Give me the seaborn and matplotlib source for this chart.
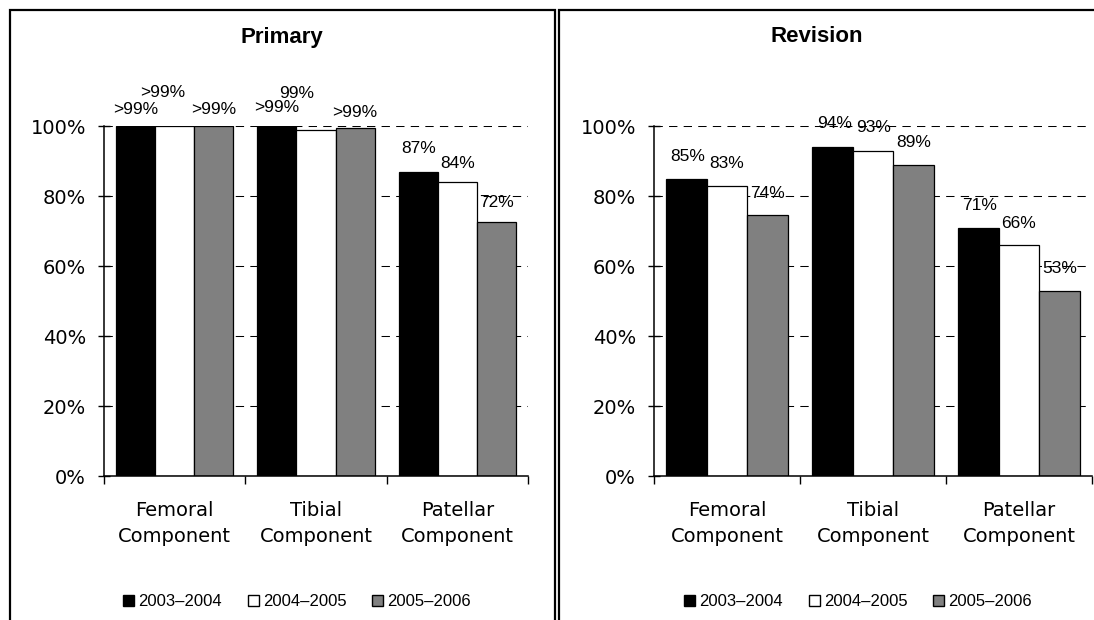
import matplotlib
matplotlib.use("Agg")
import matplotlib.pyplot as plt
from matplotlib.patches import Rectangle
from matplotlib.ticker import PercentFormatter, FixedLocator
import seaborn as sns
import pandas as pd

# ---- data ----
components = ["Femoral\nComponent", "Tibial\nComponent", "Patellar\nComponent"]
periods = ["2003\u20132004", "2004\u20132005", "2005\u20132006"]
primary_2003 = [99.9, 99.9, 87.0]
primary_2004 = [99.9, 99.0, 84.0]
primary_2005 = [99.9, 99.5, 72.5]
revision_2003 = [85.0, 94.0, 71.0]
revision_2004 = [83.0, 93.0, 66.0]
revision_2005 = [74.5, 89.0, 53.0]
yticks = [0, 20, 40, 60, 80, 100]
panel_titles = ["Primary", "Revision"]

palette = ["#000000", "#ffffff", "#808080"]

W, H, DPI = 1094, 620, 100
PX = 72.0 / DPI  # points per pixel

sns.set_style("white")
plt.rcParams["font.family"] = ["DejaVu Sans"]
plt.rcParams["lines.scale_dashes"] = False
for key in ("text.color", "axes.labelcolor", "xtick.color", "ytick.color",
            "axes.edgecolor", "legend.labelcolor"):
    plt.rcParams[key] = "black"

def long_frame(series):
    rows = []
    for period, vals in zip(periods, series):
        for comp, v in zip(components, vals):
            rows.append({"component": comp, "period": period, "value": v})
    return pd.DataFrame(rows)

def label_text(v):
    if 99 < v < 100:
        return ">99%"
    return f"{round(v)}%"

fig = plt.figure(figsize=(W / DPI, H / DPI), dpi=DPI)

# axes rectangles in pixels: (left, right, top, bottom)
axes_px = [(104, 528, 126, 476), (654, 1092, 126, 476)]
legend_centers_px = [(297, 602), (858, 602)]
title_centers_px = [(282, 37), (817, 37)]

# label offsets (dx, dy) in pixels, per hue level then per category
offsets = [
    [[(0, 17), (0, 19), (0, 23)],
     [(-12, 34), (-19, 36), (0, 19)],
     [(0, 17), (0, 15), (0, 20)]],
    [[(1, 22), (2, 24), (1, 22)],
     [(0, 22), (1, 23), (0, 22)],
     [(0, 22), (0, 22), (0, 22)]],
]

datasets = [
    long_frame([primary_2003, primary_2004, primary_2005]),
    long_frame([revision_2003, revision_2004, revision_2005]),
]

for i, df in enumerate(datasets):
    l, r, t, b = axes_px[i]
    ax = fig.add_axes([l / W, 1 - b / H, (r - l) / W, (b - t) / H])
    sns.barplot(data=df, x="component", y="value", hue="period",
                hue_order=periods, order=components, palette=palette,
                edgecolor="black", linewidth=0.9, width=0.83, gap=0,
                saturation=1, ax=ax, legend=True)

    ax.set_xlim(-0.5, 2.5)
    ax.set_ylim(0, 100)
    ax.set_xlabel("")
    ax.set_ylabel("")

    # y axis
    ax.yaxis.set_major_locator(FixedLocator(yticks))
    ax.yaxis.set_major_formatter(PercentFormatter(100, decimals=0))
    ax.tick_params(axis="y", direction="inout", length=8 * PX * 1.4,
                   width=1.0, pad=9, labelsize=14, colors="black",
                   left=True)
    ax.yaxis.grid(True, color="black", linestyle=(0, (6, 4.5)),
                  linewidth=0.75)
    ax.set_axisbelow(True)

    # x axis: labels at centres, ticks at category boundaries
    ax.set_xticks([0, 1, 2])
    ax.set_xticklabels(components, fontsize=14, linespacing=1.45)
    ax.set_xticks([-0.5, 0.5, 1.5, 2.5], minor=True)
    ax.tick_params(axis="x", which="major", length=0, pad=18, colors="black")
    ax.tick_params(axis="x", which="minor", direction="out",
                   length=6 * PX * 1.4, width=1.0, bottom=True,
                   colors="black")

    for side in ("top", "right"):
        ax.spines[side].set_visible(False)
    for side in ("left", "bottom"):
        ax.spines[side].set_color("black")
        ax.spines[side].set_linewidth(1.1)

    # value labels
    for h, cont in enumerate(ax.containers):
        for c, patch in enumerate(cont.patches):
            v = patch.get_height()
            dx, dy = offsets[i][h][c]
            ax.annotate(label_text(v),
                        (patch.get_x() + patch.get_width() / 2, v),
                        xytext=(dx * PX, dy * PX), textcoords="offset points",
                        ha="center", va="center", fontsize=12.5,
                        family=["Liberation Sans"], color="black",
                        annotation_clip=False)

    # legend below the plot
    leg = ax.get_legend()
    handles = leg.legend_handles
    labels = [tx.get_text() for tx in leg.get_texts()]
    leg.remove()
    for hd in handles:
        hd.set_edgecolor("black")
        hd.set_linewidth(1.0)
    cx, cy = legend_centers_px[i]
    ax.legend(handles, labels, loc="center", ncol=3,
              bbox_to_anchor=(cx / W, 1 - cy / H),
              bbox_transform=fig.transFigure, frameon=False,
              prop={"family": "Liberation Sans", "size": 12},
              labelcolor="black",
              handlelength=0.66, handleheight=0.66, handletextpad=0.25,
              columnspacing=1.55, borderpad=0, borderaxespad=0)

    tx, ty = title_centers_px[i]
    fig.text(tx / W, 1 - ty / H, panel_titles[i], ha="center", va="center",
             fontsize=16, fontweight="bold", family=["Liberation Sans"],
             color="black")

# panel frames
frames_px = [(10, 10, 555, 640), (559, 10, 1110, 640)]
for (x0, y0, x1, y1) in frames_px:
    fig.add_artist(Rectangle((x0 / W, 1 - y1 / H), (x1 - x0) / W,
                             (y1 - y0) / H, transform=fig.transFigure,
                             fill=False, edgecolor="black", linewidth=1.6,
                             clip_on=False))

fig.savefig("out.png", dpi=DPI, facecolor="white")
